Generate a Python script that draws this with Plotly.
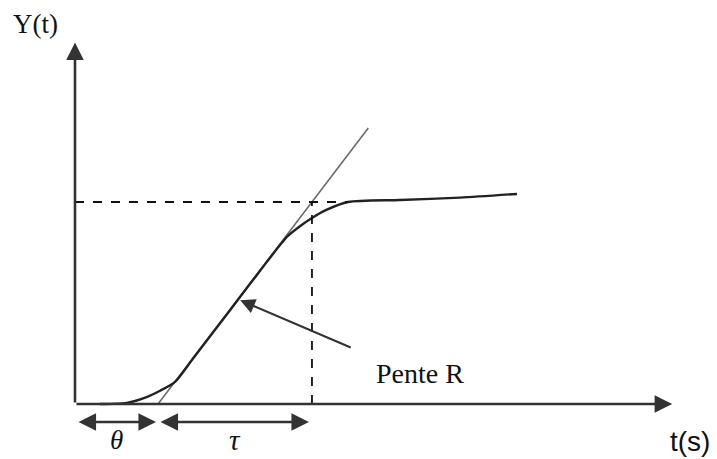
import plotly.graph_objects as go

# Step response of a first-order-plus-dead-time process (schematic)
t_curve = [0.60, 1.25, 1.74, 2.05, 2.41, 2.84, 3.74, 4.46, 5.11, 5.42, 5.71, 6.07, 6.58, 7.83, 9.28, 10.65]
y_curve = [0.000, 0.006, 0.036, 0.066, 0.110, 0.224, 0.466, 0.660, 0.828, 0.880, 0.921, 0.962, 1.000, 1.010, 1.022, 1.040]

theta = 2.0          # dead time
tau = 3.71           # time constant
K = 1.0              # steady-state value
t_end = 14.39        # end of time axis
y_end = 1.79         # top of Y axis
tangent_top = 1.366  # tangent drawn up to this level
slope_point = 3.98   # where the "Pente R" arrow touches the tangent
slope_label = (8.31, 0.150)

R = K / tau
tangent_t = [theta, theta + tangent_top / R]
tangent_y = [0.0, tangent_top]

fig = go.Figure()

# tangent line (slope R)
fig.add_trace(go.Scatter(x=tangent_t, y=tangent_y, mode="lines",
                         line=dict(color="#6a6a6a", width=1.6), hoverinfo="skip"))
# response curve
fig.add_trace(go.Scatter(x=t_curve, y=y_curve, mode="lines",
                         line=dict(color="#222222", width=2.4, shape="spline", smoothing=0.7),
                         hoverinfo="skip"))

# dashed guides at K and theta + tau
fig.add_shape(type="line", x0=0, x1=t_curve[12], y0=K, y1=K,
              line=dict(color="#111111", width=1.8, dash="dash"))
fig.add_shape(type="line", x0=theta + tau, x1=theta + tau, y0=0, y1=K,
              line=dict(color="#111111", width=1.8, dash="dash"))

axis_col = "#333333"
# axes with arrow heads
fig.add_annotation(x=t_end, y=0, ax=0, ay=0, xref="x", yref="y", axref="x", ayref="y",
                   showarrow=True, arrowhead=2, arrowsize=1.35, arrowwidth=2.6,
                   arrowcolor=axis_col, text="")
fig.add_annotation(x=0, y=y_end, ax=0, ay=0, xref="x", yref="y", axref="x", ayref="y",
                   showarrow=True, arrowhead=2, arrowsize=1.35, arrowwidth=2.6,
                   arrowcolor=axis_col, text="")

# theta and tau spans
span_y = -0.089
fig.add_annotation(x=theta, y=span_y, ax=0, ay=span_y, xref="x", yref="y", axref="x", ayref="y",
                   showarrow=True, arrowhead=2, startarrowhead=2, arrowside="end+start",
                   arrowsize=1.35, startarrowsize=1.35, arrowwidth=2.6, standoff=2,
                   startstandoff=2, arrowcolor=axis_col, text="")
fig.add_annotation(x=theta + tau, y=span_y, ax=theta, ay=span_y, xref="x", yref="y",
                   axref="x", ayref="y", showarrow=True, arrowhead=2, startarrowhead=2,
                   arrowside="end+start", arrowsize=1.35, startarrowsize=1.35, arrowwidth=2.6,
                   standoff=3, startstandoff=1, arrowcolor=axis_col, text="")

# pointer to the tangent
fig.add_annotation(x=slope_point, y=(slope_point - theta) * R - 0.02,
                   ax=6.68, ay=0.277, xref="x", yref="y", axref="x", ayref="y",
                   showarrow=True, arrowhead=2, arrowsize=1.35, arrowwidth=2.2,
                   arrowcolor="#333333", text="")

serif = "Liberation Serif"
fig.add_annotation(x=slope_label[0], y=slope_label[1], text="Pente R", showarrow=False,
                   font=dict(family=serif, size=28, color="#111111"))
fig.add_annotation(x=-0.94, y=1.881, text="Y(t)", showarrow=False,
                   font=dict(family=serif, size=27, color="#111111"))
fig.add_annotation(x=14.82, y=-0.183, text="t(s)", showarrow=False,
                   font=dict(family="Liberation Sans", size=28, color="#111111"))
fig.add_annotation(x=theta / 2, y=-0.178, text="<i>θ</i>", showarrow=False,
                   font=dict(family=serif, size=27, color="#111111"))
fig.add_annotation(x=theta + tau / 2, y=-0.178, text="<i>τ</i>", showarrow=False,
                   font=dict(family=serif, size=29, color="#111111"))

fig.update_layout(
    width=717, height=459,
    margin=dict(l=0, r=0, t=0, b=0),
    paper_bgcolor="white", plot_bgcolor="white",
    showlegend=False,
    xaxis=dict(range=[-1.807, 15.47], visible=False, fixedrange=True),
    yaxis=dict(range=[-0.272, 2.0], visible=False, fixedrange=True),
)

fig.write_html("out.html")
